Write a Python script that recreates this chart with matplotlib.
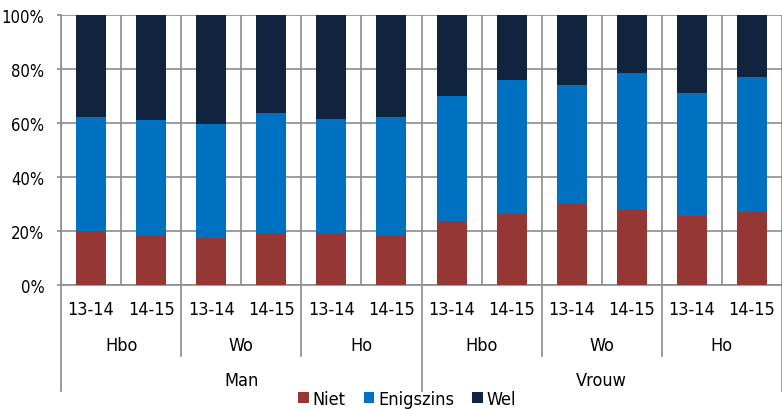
import matplotlib
matplotlib.use("Agg")
import matplotlib.pyplot as plt
import numpy as np

years = ["13-14", "14-15"] * 6
institutions = ["Hbo", "Wo", "Ho", "Hbo", "Wo", "Ho"]
sexes = ["Man", "Vrouw"]
series_names = ["Niet", "Enigszins", "Wel"]
niet = [20.1, 18.1, 17.3, 18.8, 19.1, 18.3, 23.6, 26.5, 29.9, 27.7, 25.7, 26.9]
enigszins = [42.0, 43.1, 42.3, 44.8, 42.3, 43.8, 46.3, 49.5, 44.0, 51.0, 45.4, 50.0]
wel = [37.9, 38.8, 40.4, 36.4, 38.6, 37.9, 30.1, 24.0, 26.1, 21.3, 28.9, 23.1]
colors = ["#953735", "#0070C0", "#10243F"]

plt.rcParams['font.family'] = ['DejaVu Sans']
FS = 13
FSY = 12
fig = plt.figure(figsize=(7.82, 4.10), dpi=100)
ax = fig.add_axes([61/782, 124/410, 721/782, 270/410])

x = np.arange(len(years))
bottom = np.zeros(len(x))
for name, vals, c in zip(series_names, [niet, enigszins, wel], colors):
    ax.bar(x, vals, width=0.5, bottom=bottom, color=c, label=name, zorder=3)
    bottom += np.array(vals)

ax.set_xlim(-0.5, len(x) - 0.5)
ax.set_ylim(0, 100)
ax.set_yticks(np.arange(0, 101, 20))
ax.set_yticklabels([f"{v}%" for v in range(0, 101, 20)], fontsize=FSY, fontstretch='condensed')
ax.set_xticks(np.arange(-0.5, len(x), 1.0), minor=True)
ax.set_xticks([])
gcol = "#8c8c8c"
ax.grid(True, axis='y', color=gcol, linewidth=1.2, zorder=0)
ax.grid(True, axis='x', which='minor', color=gcol, linewidth=1.2, zorder=0)
ax.tick_params(axis='y', length=3, color=gcol, pad=9, width=1.2)
ax.tick_params(axis='x', which='minor', length=0)
for s in ['top', 'right']:
    ax.spines[s].set_visible(False)
ax.spines['left'].set_color(gcol)
ax.spines['bottom'].set_color(gcol)
ax.spines['left'].set_linewidth(1.2)
ax.spines['bottom'].set_linewidth(1.2)

tr = ax.get_xaxis_transform()
# year labels
for xi, lab in zip(x, years):
    ax.text(xi, -0.089, lab, transform=tr, ha='center', va='center', fontsize=FS, fontstretch='condensed')
# institution labels
for i, lab in enumerate(institutions):
    ax.text(2 * i + 0.5, -0.222, lab, transform=tr, ha='center', va='center', fontsize=FS, fontstretch='condensed')
# sex labels
for i, lab in enumerate(sexes):
    ax.text(6 * i + 2.5, -0.352, lab, transform=tr, ha='center', va='center', fontsize=FS, fontstretch='condensed')
# separators
for b in np.arange(-0.5, len(x) + 0.5, 2):
    low = -0.393 if (b + 0.5) % 6 == 0 else -0.263
    ax.plot([b, b], [0, low], transform=tr, color=gcol, linewidth=1.2, clip_on=False)

leg = ax.legend(loc='center', bbox_to_anchor=(0.48, -0.422), ncol=3, frameon=False,
                fontsize=FS, handlelength=0.6, handleheight=0.6, handletextpad=0.2,
                columnspacing=1.0, borderaxespad=0, borderpad=0)
for t in leg.get_texts():
    t.set_fontstretch('condensed')

fig.savefig("out.png", dpi=100)
